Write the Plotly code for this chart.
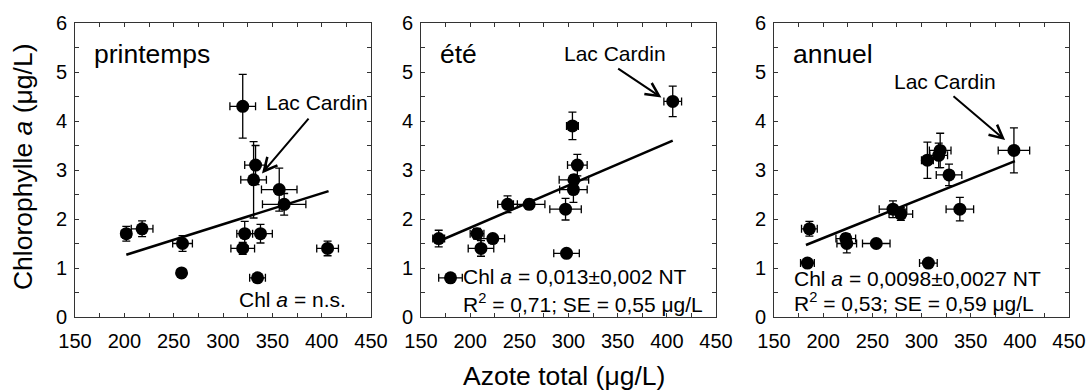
import plotly.graph_objects as go

# ---------------- data ----------------
# printemps
x_p = [320, 333, 331, 357, 362, 202, 218, 259, 258, 320, 322, 338, 335, 406]
y_p = [4.3, 3.1, 2.8, 2.6, 2.3, 1.7, 1.8, 1.5, 0.9, 1.4, 1.7, 1.7, 0.8, 1.4]
ex_p = [13, 11, 13, 18, 22, 5, 11, 10, 4, 12, 8, 12, 8, 11]
ey_p = [0.65, 0.4, 0.78, 0.44, 0.22, 0.15, 0.16, 0.16, 0.04, 0.12, 0.25, 0.19, 0.04, 0.15]
fit_x_p = [202, 407]
fit_y_p = [1.27, 2.57]

# été
x_e = [406, 304, 309, 305.5, 305, 238, 260, 297, 168, 207, 211, 223, 298, 180]
y_e = [4.4, 3.9, 3.1, 2.8, 2.6, 2.3, 2.3, 2.2, 1.6, 1.7, 1.4, 1.6, 1.3, 0.8]
ex_e = [9, 6, 10, 15, 14, 10, 16, 16, 6, 7, 13, 12, 13, 12]
ey_e = [0.31, 0.28, 0.22, 0.1, 0.26, 0.17, 0.1, 0.22, 0.17, 0.11, 0.16, 0.08, 0.05, 0.05]
fit_x_e = [165, 406]
fit_y_e = [1.52, 3.60]

# annuel
x_a = [394, 306, 319, 317.5, 328, 186, 184, 223, 224, 254, 271, 279, 307, 339]
y_a = [3.4, 3.2, 3.4, 3.3, 2.9, 1.8, 1.1, 1.6, 1.5, 1.5, 2.2, 2.1, 1.1, 2.2]
ex_a = [16, 6, 11, 9, 13, 8, 7, 10, 10, 14, 14, 12, 9, 14]
ey_a = [0.46, 0.37, 0.35, 0.25, 0.22, 0.15, 0.08, 0.1, 0.19, 0.05, 0.17, 0.13, 0.05, 0.24]
fit_x_a = [182.5, 395]
fit_y_a = [1.47, 3.18]

panel_labels = ["printemps", "été", "annuel"]
stat_lines = [
    ["Chl <i>a</i> = n.s."],
    ["Chl <i>a</i> = 0,013±0,002 NT", "R<sup>2</sup> = 0,71; SE = 0,55 μg/L"],
    ["Chl <i>a</i> = 0,0098±0,0027 NT", "R<sup>2</sup> = 0,53; SE = 0,59 μg/L"],
]
x_ticks = [150, 200, 250, 300, 350, 400, 450]
y_ticks = [0, 1, 2, 3, 4, 5, 6]
x_title = "Azote total (μg/L)"
y_title = "Chlorophylle <i>a</i> (μg/L)"

# ---------------- figure ----------------
FONT = "Liberation Sans, Arial, sans-serif"
AX = "#333333"
fig = go.Figure()

panels = [
    (x_p, y_p, ex_p, ey_p, fit_x_p, fit_y_p),
    (x_e, y_e, ex_e, ey_e, fit_x_e, fit_y_e),
    (x_a, y_a, ex_a, ey_a, fit_x_a, fit_y_a),
]
for i, (xs, ys, exs, eys, fx, fy) in enumerate(panels):
    sfx = "" if i == 0 else str(i + 1)
    fig.add_trace(go.Scatter(
        x=fx, y=fy, mode="lines", line=dict(color="black", width=2.5),
        xaxis="x" + sfx, yaxis="y" + sfx, hoverinfo="skip"))
    fig.add_trace(go.Scatter(
        x=xs, y=ys, mode="markers",
        marker=dict(size=13, color="black"),
        error_x=dict(type="data", array=exs, color="black", thickness=1.3, width=4),
        error_y=dict(type="data", array=eys, color="black", thickness=1.3, width=4),
        xaxis="x" + sfx, yaxis="y" + sfx))

x_domains = [[75/1087, 371/1087], [421/1087, 716/1087], [774/1087, 1069/1087]]
y_domain = [1 - 317/391, 1 - 23/391]

layout = dict(
    width=1087, height=391, margin=dict(l=0, r=0, t=0, b=0, autoexpand=False),
    paper_bgcolor="white", plot_bgcolor="white", showlegend=False,
    font=dict(family=FONT, color="black"),
)
for i in range(3):
    sfx = "" if i == 0 else str(i + 1)
    common = dict(showline=True, linecolor=AX, linewidth=1, mirror="allticks",
                  ticks="inside", ticklen=4, tickwidth=1, tickcolor=AX,
                  showgrid=False, zeroline=False, automargin=False,
                  tickfont=dict(size=20, family=FONT, color="black"))
    layout["xaxis" + sfx] = dict(common, domain=x_domains[i], range=[150, 450],
                                 tickvals=x_ticks, anchor="y" + sfx, ticklabelstandoff=6,
                                 minor=dict(dtick=25, tick0=150, ticks="inside", ticklen=4,
                                            tickcolor=AX, tickwidth=1))
    layout["yaxis" + sfx] = dict(common, domain=y_domain, range=[0, 6],
                                 tickvals=y_ticks, anchor="x" + sfx, ticklabelstandoff=3,
                                 minor=dict(dtick=0.5, tick0=0, ticks="inside", ticklen=4,
                                            tickcolor=AX, tickwidth=1))
fig.update_layout(**layout)

ann = []
# panel labels
for i, lab in enumerate(panel_labels):
    sfx = "" if i == 0 else str(i + 1)
    ann.append(dict(text=lab, x=167, y=5.37, xref="x" + sfx, yref="y" + sfx,
                    xanchor="left", yanchor="middle", showarrow=False,
                    font=dict(size=26.5, family=FONT, color="black")))

# statistic texts
ann.append(dict(text=stat_lines[0][0], x=427, y=0.35, xref="x", yref="y",
                xanchor="right", yanchor="middle", showarrow=False,
                font=dict(size=21, family=FONT)))
ann.append(dict(text=stat_lines[1][0], x=191, y=0.82, xref="x2", yref="y2",
                xanchor="left", yanchor="middle", showarrow=False,
                font=dict(size=21, family=FONT)))
ann.append(dict(text=stat_lines[1][1], x=191, y=0.29, xref="x2", yref="y2",
                xanchor="left", yanchor="middle", showarrow=False,
                font=dict(size=21, family=FONT)))
ann.append(dict(text=stat_lines[2][0], x=168, y=0.79, xref="x3", yref="y3",
                xanchor="left", yanchor="middle", showarrow=False,
                font=dict(size=21, family=FONT)))
ann.append(dict(text=stat_lines[2][1], x=168, y=0.31, xref="x3", yref="y3",
                xanchor="left", yanchor="middle", showarrow=False,
                font=dict(size=21, family=FONT)))

# Lac Cardin labels and arrows
cardin = [
    # text_x, text_y, tail_x, tail_y, head_x, head_y
    ("", 395, 4.37, 388, 4.08, 339.5, 2.93),
    ("2", 347, 5.37, 349, 5.09, 394.5, 4.48),
    ("3", 324, 4.80, 331, 4.53, 385, 3.61),
]
for sfx, tx, ty, ax_, ay_, hx, hy in cardin:
    ann.append(dict(text="Lac Cardin", x=tx, y=ty, xref="x" + sfx, yref="y" + sfx,
                    xanchor="center", yanchor="middle", showarrow=False,
                    font=dict(size=21, family=FONT)))
    ann.append(dict(text="", x=hx, y=hy, ax=ax_, ay=ay_, xref="x" + sfx, yref="y" + sfx,
                    axref="x" + sfx, ayref="y" + sfx, showarrow=True,
                    arrowhead=5, arrowsize=1.3, arrowwidth=2, arrowcolor="black"))

# axis titles (anchored on axis points, shifted in pixels)
ann.append(dict(text=x_title, x=295, y=0, xref="x2", yref="y2", yshift=-59,
                xanchor="center", yanchor="middle", showarrow=False,
                font=dict(size=26.5, family=FONT)))
ann.append(dict(text=y_title, x=150, y=3.06, xref="x", yref="y", xshift=-52,
                xanchor="center", yanchor="middle", textangle=-90, showarrow=False,
                font=dict(size=26.5, family=FONT)))

fig.update_layout(annotations=ann)
fig.write_html("out.html")
